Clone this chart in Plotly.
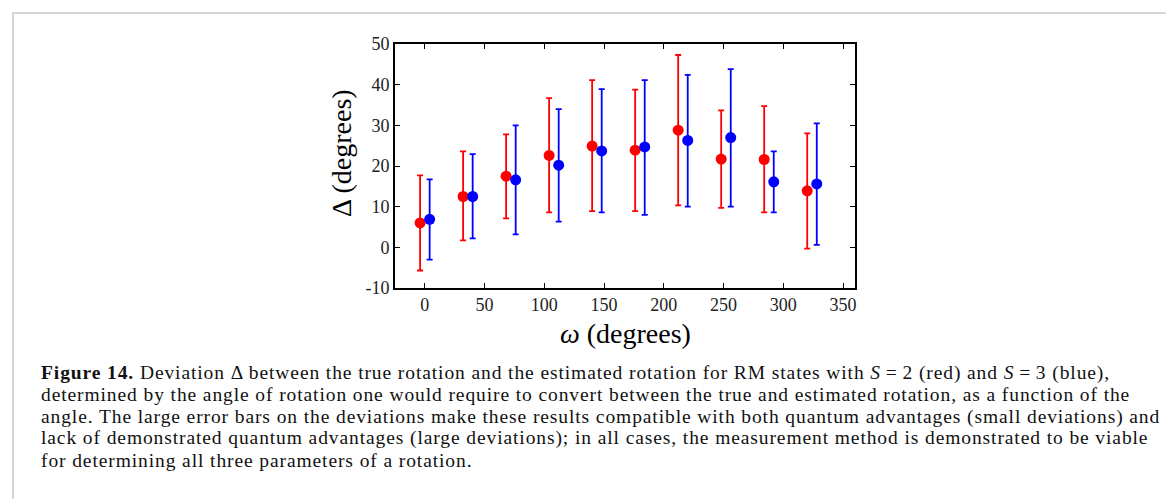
import plotly.graph_objects as go

# Data
omega = [0, 36, 72, 108, 144, 180, 216, 252, 288, 324]
offset = 4  # horizontal offset separating the two series

red_val = [6.0, 12.5, 17.5, 22.6, 24.9, 23.9, 28.8, 21.7, 21.6, 13.9]
red_hi = [17.7, 23.6, 27.8, 36.7, 41.1, 38.8, 47.3, 33.7, 34.7, 28.0]
red_lo = [-5.7, 1.7, 7.1, 8.6, 8.9, 8.9, 10.3, 9.7, 8.6, -0.3]

blue_val = [6.9, 12.5, 16.6, 20.2, 23.7, 24.7, 26.3, 27.0, 16.1, 15.6]
blue_hi = [16.7, 22.9, 30.0, 34.0, 38.9, 41.1, 42.4, 43.8, 23.6, 30.5]
blue_lo = [-3.0, 2.2, 3.2, 6.3, 8.6, 8.0, 10.0, 10.0, 8.6, 0.6]

x_ticks = [0, 50, 100, 150, 200, 250, 300, 350]
y_ticks = [-10, 0, 10, 20, 30, 40, 50]

x_title = "<i>ω</i> (degrees)"
y_title = "Δ (degrees)"

caption_lines = [
    "<b>Figure 14.</b> Deviation Δ between the true rotation and the estimated rotation for RM states with <i>S</i>\u2009=\u20092 (red) and <i>S</i>\u2009=\u20093 (blue),",
    "determined by the angle of rotation one would require to convert between the true and estimated rotation, as a function of the",
    "angle. The large error bars on the deviations make these results compatible with both quantum advantages (small deviations) and",
    "lack of demonstrated quantum advantages (large deviations); in all cases, the measurement method is demonstrated to be viable",
    "for determining all three parameters of a rotation.",
]

FONT = "Liberation Serif"

W, H = 1174, 499
pl, pr, pt, pb = 387, 327, 36, 219
pw, ph = W - pl - pr, H - pt - pb


def px_to_paper(x, y):
    return (x - pl) / pw, (H - pb - y) / ph


fig = go.Figure()


def add_series(vals, hi, lo, color, shift):
    fig.add_trace(go.Scatter(
        x=[w + shift for w in omega],
        y=vals,
        mode="markers",
        marker=dict(color=color, size=11, line=dict(width=0)),
        error_y=dict(
            type="data",
            symmetric=False,
            array=[h - v for h, v in zip(hi, vals)],
            arrayminus=[v - l for v, l in zip(vals, lo)],
            color=color,
            thickness=1.8,
            width=3,
        ),
        showlegend=False,
    ))


add_series(red_val, red_hi, red_lo, "#ff0000", -offset)
add_series(blue_val, blue_hi, blue_lo, "#0000ff", offset)

axis_common = dict(
    showline=True,
    linecolor="black",
    linewidth=1.6,
    mirror="ticks",
    ticks="inside",
    ticklen=5,
    tickwidth=1.3,
    tickcolor="black",
    showgrid=False,
    zeroline=False,
    tickfont=dict(family=FONT, size=18, color="#222"),
)

fig.update_layout(
    width=W,
    height=H,
    margin=dict(l=pl, r=pr, t=pt, b=pb),
    paper_bgcolor="white",
    plot_bgcolor="white",
    xaxis=dict(range=[-25, 360], tickvals=x_ticks, **axis_common),
    yaxis=dict(range=[-10, 50], tickvals=y_ticks,
               ticktext=[str(v) for v in y_ticks], **axis_common),
)

# Outer light-grey frame
x0, y0 = px_to_paper(5, 5)
x1, y1 = px_to_paper(1163, 510)
fig.add_shape(type="rect", xref="paper", yref="paper", x0=x0, y0=y1, x1=x1, y1=y0,
              line=dict(color="#c8c8c8", width=1.5), layer="below")

# Axis titles
tx, ty = px_to_paper(617, 325)
fig.add_annotation(text=x_title, xref="paper", yref="paper", x=tx, y=ty,
                   xanchor="center", yanchor="middle", showarrow=False,
                   borderpad=0, borderwidth=0,
                   font=dict(family=FONT, size=28, color="black"))
tx, ty = px_to_paper(333, 145)
fig.add_annotation(text=y_title, xref="paper", yref="paper", x=tx, y=ty,
                   xanchor="center", yanchor="middle", showarrow=False, textangle=-90,
                   borderpad=0, borderwidth=0,
                   font=dict(family=FONT, size=28, color="black"))

# Caption, one annotation per line
line_y = [365, 386.8, 408.6, 430.4, 452.2]
for txt, yy in zip(caption_lines, line_y):
    ax, ay = px_to_paper(33, yy)
    fig.add_annotation(
        text='<span style="letter-spacing:0.9px">' + txt + "</span>",
        xref="paper", yref="paper", x=ax, y=ay,
        xanchor="left", yanchor="middle", showarrow=False,
        borderpad=0, borderwidth=0,
        font=dict(family=FONT, size=19.5, color="#111"),
    )

fig.write_html("out.html")
